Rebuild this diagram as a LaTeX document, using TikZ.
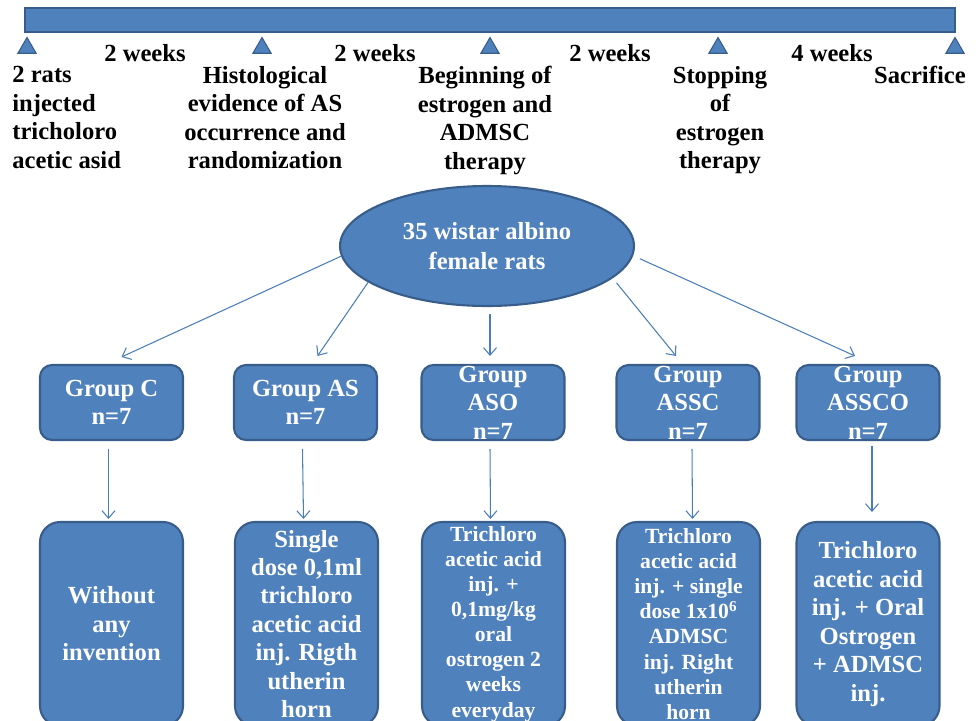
\documentclass[tikz,border=0pt]{standalone}
\usepackage{fontspec}
\setmainfont{Liberation Serif}
\usepackage{xcolor}
\usepackage{tikz}
\usetikzlibrary{arrows.meta, positioning, calc, shapes.geometric}

\definecolor{boxblue}{HTML}{4F81BD}
\definecolor{boxline}{HTML}{385D8A}
\definecolor{arrblue}{HTML}{4A7EBB}

\begin{document}
\begin{tikzpicture}[
    x=0.02cm, y=-0.02cm,
    font=\bfseries\fontsize{14}{16.2}\selectfont,
    bar/.style={draw=boxline, fill=boxblue, line width=1pt},
    tri/.style={regular polygon, regular polygon sides=3, draw=boxline,
                fill=boxblue, line width=0.6pt, minimum size=0.42cm, inner sep=0pt},
    evt/.style={inner sep=0pt, align=center},
    wk/.style={inner sep=0pt, anchor=base},
    grupo/.style={draw=boxline, fill=boxblue, line width=1.2pt, rounded corners=2.4mm,
                  minimum width=2.86cm, minimum height=1.5cm, inner sep=0pt},
    trat/.style={draw=boxline, fill=boxblue, line width=1.2pt, rounded corners=4mm,
                 minimum width=2.86cm, minimum height=4.08cm, inner sep=0pt,
                 text=white, align=center},
    lbl/.style={text=white, align=center, inner sep=0pt},
    chico/.style={font=\bfseries\fontsize{12.3}{14.3}\selectfont},
    flecha/.style={draw=arrblue, line width=0.6pt,
                   -{Straight Barb[length=1.5mm, width=2.6mm]}}
  ]

  \useasboundingbox (0,0) rectangle (979,720);
  \clip (0,0) rectangle (979,720);

  % --- Linea de tiempo ---
  \draw[bar] (25,8) rectangle (955,32);
  \node[tri] (t1) at (27,48) {};
  \node[tri] (t2) at (262,48) {};
  \node[tri] (t3) at (490,48) {};
  \node[tri] (t4) at (718,48) {};
  \node[tri] (t5) at (955,48) {};

  \node[wk] (w1) at (145,61) {2 weeks};
  \node[wk] (w2) at (375,61) {2 weeks};
  \node[wk] (w3) at (610,61) {2 weeks};
  \node[wk] (w4) at (832,61) {4 weeks};

  \node[evt, anchor=north west, align=left] (e1) at (12,66)
       {2 rats\\injected\\tricholoro\\acetic asid};
  \node[evt, anchor=north] (e2) at (265,66)
       {Histological\\evidence of AS\\occurrence and\\randomization};
  \node[evt, anchor=north] (e3) at (485,66)
       {Beginning of\\estrogen and\\ADMSC\\therapy};
  \node[evt, anchor=north] (e4) at (720,66)
       {Stopping\\of\\estrogen\\therapy};
  \node[evt, anchor=north east] (e5) at (966,66) {Sacrifice};

  % --- Grupos ---
  \node[ellipse, draw=boxline, fill=boxblue, line width=1.2pt,
        minimum width=5.88cm, minimum height=2.4cm, text=white, align=center,
        font=\bfseries\fontsize{14}{17}\selectfont] (root) at (487,246)
       {35 wistar albino\\female rats};

  \node[grupo, label={[lbl]center:Group C\\n=7}] (gc) at (111.5,402.5) {};
  \node[grupo, label={[lbl]center:Group AS\\n=7}] (gas) at (305.5,402.5) {};
  \node[grupo, label={[lbl]center:Group\\ASO\\n=7}] (gaso) at (493,402.5) {};
  \node[grupo, label={[lbl]center:Group\\ASSC\\n=7}] (gassc) at (688,402.5) {};
  \node[grupo, label={[lbl]center:Group\\ASSCO\\n=7}] (gassco) at (868,402.5) {};

  % --- Tratamientos ---
  \node[trat] (bc) at (111.5,624) {Without\\any\\invention};
  \node[trat] (bas) at (306.5,624)
       {Single\\dose 0,1ml\\trichloro\\acetic acid\\inj. Rigth\\utherin\\horn};
  \node[trat, chico] (baso) at (493.5,624)
       {Trichloro\\acetic acid\\inj. +\\0,1mg/kg\\oral\\ostrogen 2\\weeks\\everyday};
  \node[trat, chico] (bassc) at (688.5,624)
       {Trichloro\\acetic acid\\inj. + single\\dose 1x10\textsuperscript{6}\\ADMSC\\inj. Right\\utherin\\horn};
  \node[trat] (bassco) at (868,624)
       {Trichloro\\acetic acid\\inj. + Oral\\Ostrogen\\+ ADMSC\\inj.};

  % --- Flechas ---
  \draw[flecha] (root.184) -- ($(gc.north)+(10,-7)$);
  \draw[flecha] (root.197) -- ($(gas.north)+(12,-8)$);
  \draw[flecha] ($(root.south)+(3,7)$) -- ($(gaso.north)+(-3,-8)$);
  \draw[flecha] ($(root.344)+(8,2)$) -- ($(gassc.north)+(-12,-8)$);
  \draw[flecha] ($(root.357)+(6,5)$) -- ($(gassco.north)+(-13,-8)$);

  \draw[flecha] ($(gc.south)+(-3,8)$) -- ($(bc.north)+(-3,-2)$);
  \draw[flecha] ($(gas.south)+(-3,8)$) -- ($(bas.north)+(-3,-2)$);
  \draw[flecha] ($(gaso.south)+(-3,8)$) -- ($(baso.north)+(-3,-2)$);
  \draw[flecha] ($(gassc.south)+(4,8)$) -- ($(bassc.north)+(4,-2)$);
  \draw[flecha] ($(gassco.south)+(4,5)$) -- ($(bassco.north)+(4,-9)$);

\end{tikzpicture}
\end{document}
